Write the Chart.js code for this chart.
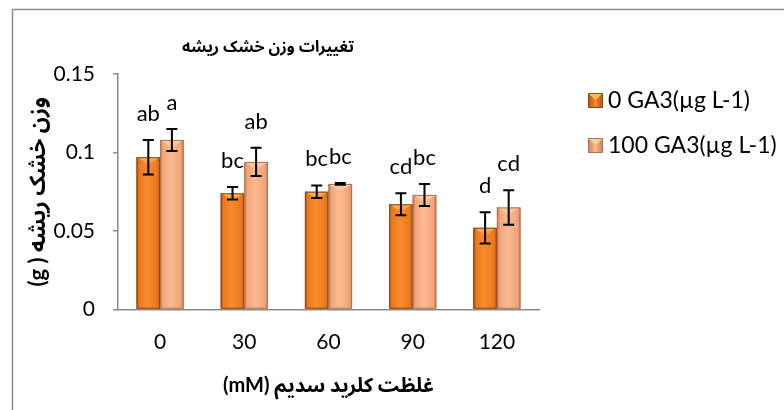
<!DOCTYPE html>
<html>
<head>
<meta charset="utf-8">
<script src="https://cdn.jsdelivr.net/npm/chart.js@4/dist/chart.umd.min.js"></script>
<style>
  html, body { margin: 0; padding: 0; background: #fff; }
  #wrap { width: 784px; height: 410px; position: relative; }
</style>
</head>
<body>
<div id="wrap"><canvas id="c" width="784" height="410"></canvas></div>
<script>
// Sodium chloride concentration (mM)
const categories = ['0', '30', '60', '90', '120'];

// Root dry weight (g), with and without gibberellic acid
const seriesNames = ['0 GA3(µg L-1)', '100 GA3(µg L-1)'];
const ga0Values   = [0.097, 0.074, 0.075, 0.067, 0.052];
const ga100Values = [0.108, 0.094, 0.080, 0.073, 0.065];

// Standard error of each mean
const ga0Errors   = [0.011, 0.004, 0.004, 0.007, 0.010];
const ga100Errors = [0.007, 0.009, 0.0005, 0.007, 0.011];

// Mean-separation letters
const ga0Letters   = ['ab', 'bc', 'bc', 'cd', 'd'];
const ga100Letters = ['a', 'ab', 'bc', 'bc', 'cd'];

// Y axis ticks
const yTicks = [0, 0.05, 0.1, 0.15];

const chartTitle = 'تغییرات وزن خشک ریشه';
const xTitle = 'غلظت کلرید سدیم (mM)';
const yTitle = 'وزن خشک ریشه ( g)';

const LATIN = 'Lato, "Open Sans", sans-serif';
const PERSIAN = 'Lato, "Noto Sans Arabic", sans-serif';

const palette = [
  { base: '#EC7820', edge: '#AE520E', mid: '#F88C2C', cap: '#F7BE55', line: '#8A4A18' },
  { base: '#F2A478', edge: '#C87E5C', mid: '#F9BA92', cap: '#FAD39A', line: '#B07458' }
];

const errorSets = [ga0Errors, ga100Errors];
const letterSets = [ga0Letters, ga100Letters];

// Cylinder-like shading and top bevel over each bar
const barShade = {
  id: 'barShade',
  afterDatasetsDraw(chart) {
    const ctx = chart.ctx;
    chart.data.datasets.forEach((ds, di) => {
      const meta = chart.getDatasetMeta(di);
      const p = palette[di];
      meta.data.forEach(el => {
        const { x, y, base, width } = el.getProps(['x', 'y', 'base', 'width'], true);
        const l = x - width / 2, r = x + width / 2;
        const g = ctx.createLinearGradient(l, 0, r, 0);
        g.addColorStop(0, p.edge);
        g.addColorStop(0.12, p.base);
        g.addColorStop(0.45, p.mid);
        g.addColorStop(0.88, p.base);
        g.addColorStop(1, p.edge);
        ctx.save();
        ctx.fillStyle = g;
        ctx.fillRect(l, y, width, base - y);
        // top bevel
        const bev = Math.min(8, (base - y) / 2);
        const tg = ctx.createLinearGradient(0, y, 0, y + bev);
        tg.addColorStop(0, p.cap);
        tg.addColorStop(1, p.mid);
        ctx.fillStyle = tg;
        ctx.beginPath();
        ctx.moveTo(l + 1, y);
        ctx.lineTo(r - 1, y);
        ctx.lineTo(x, y + bev);
        ctx.closePath();
        ctx.fill();
        ctx.strokeStyle = p.line;
        ctx.lineWidth = 1;
        ctx.strokeRect(l + 0.5, y + 0.5, width - 1, base - y - 1);
        ctx.restore();
      });
    });
  }
};

// Error bars and letters above each bar
const errorsAndLetters = {
  id: 'errorsAndLetters',
  afterDatasetsDraw(chart) {
    const ctx = chart.ctx;
    const ys = chart.scales.y;
    chart.data.datasets.forEach((ds, di) => {
      const meta = chart.getDatasetMeta(di);
      meta.data.forEach((el, i) => {
        const v = ds.data[i];
        const e = errorSets[di][i];
        const x = el.x;
        const top = ys.getPixelForValue(v + e);
        const bot = ys.getPixelForValue(v - e);
        ctx.save();
        ctx.strokeStyle = '#000';
        ctx.lineWidth = 2;
        ctx.beginPath();
        ctx.moveTo(x, top); ctx.lineTo(x, bot);
        ctx.moveTo(x - 5.5, top); ctx.lineTo(x + 5.5, top);
        ctx.moveTo(x - 5.5, bot); ctx.lineTo(x + 5.5, bot);
        ctx.stroke();
        ctx.fillStyle = '#000';
        ctx.font = '22px ' + LATIN;
        ctx.textAlign = 'center';
        ctx.textBaseline = 'alphabetic';
        ctx.fillText(letterSets[di][i], x, top - 19);
        ctx.restore();
      });
    });
  }
};

// Frame, titles and legend
const decorations = {
  id: 'decorations',
  afterDraw(chart) {
    const ctx = chart.ctx;
    const area = chart.chartArea;
    const midX = (area.left + area.right) / 2;
    const midY = (area.top + area.bottom) / 2;
    ctx.save();
    ctx.strokeStyle = '#8C8C8C';
    ctx.lineWidth = 1.5;
    ctx.beginPath();
    ctx.moveTo(12.5, 410); ctx.lineTo(12.5, 9.5); ctx.lineTo(784, 9.5);
    ctx.stroke();

    ctx.fillStyle = '#000';
    ctx.direction = 'rtl';
    ctx.textAlign = 'center';
    ctx.textBaseline = 'middle';
    ctx.font = 'bold 16px ' + PERSIAN;
    ctx.fillText(chartTitle, 268, 47);

    ctx.font = 'bold 20px ' + PERSIAN;
    ctx.fillText(xTitle, midX, 386);

    ctx.save();
    ctx.font = 'bold 22px ' + PERSIAN;
    ctx.translate(38, midY);
    ctx.rotate(-Math.PI / 2);
    ctx.fillText(yTitle, 0, 0);
    ctx.restore();

    // legend
    ctx.direction = 'ltr';
    ctx.textAlign = 'left';
    ctx.font = '23px ' + LATIN;
    chart.data.datasets.forEach((ds, di) => {
      const p = palette[di];
      const cy = 100 + di * 45;
      const bx = 588, by = cy - 7, s = 15;
      const g = ctx.createLinearGradient(bx, 0, bx + s, 0);
      g.addColorStop(0, p.edge);
      g.addColorStop(0.5, p.mid);
      g.addColorStop(1, p.edge);
      ctx.fillStyle = g;
      ctx.fillRect(bx, by, s, s);
      ctx.fillStyle = p.cap;
      ctx.beginPath();
      ctx.moveTo(bx + 1, by + 1); ctx.lineTo(bx + s - 1, by + 1); ctx.lineTo(bx + s / 2, by + 7);
      ctx.closePath(); ctx.fill();
      ctx.strokeStyle = p.line; ctx.lineWidth = 1;
      ctx.strokeRect(bx + 0.5, by + 0.5, s - 1, s - 1);
      ctx.fillStyle = '#000';
      ctx.fillText(ds.label, 608, cy + 1);
    });
    ctx.restore();
  }
};

new Chart(document.getElementById('c'), {
  type: 'bar',
  data: {
    labels: categories,
    datasets: [
      { label: seriesNames[0], data: ga0Values, backgroundColor: palette[0].base },
      { label: seriesNames[1], data: ga100Values, backgroundColor: palette[1].base }
    ]
  },
  options: {
    responsive: false,
    animation: false,
    devicePixelRatio: 1,
    layout: { padding: { left: 0, right: 245, top: 74, bottom: 0 } },
    datasets: { bar: { categoryPercentage: 0.56, barPercentage: 1.0 } },
    plugins: { legend: { display: false }, title: { display: false }, tooltip: { enabled: false } },
    scales: {
      x: {
        grid: { display: false, drawTicks: false },
        border: { display: true, color: '#8C8C8C', width: 1.5 },
        ticks: { color: '#000', font: { family: LATIN, size: 21 }, padding: 20 },
        afterFit(s) { s.height = 100.5; }
      },
      y: {
        min: 0, max: 0.15,
        afterBuildTicks(s) { s.ticks = yTicks.map(v => ({ value: v })); },
        grid: { display: true, drawOnChartArea: false, drawTicks: true, tickLength: 5, color: '#8C8C8C', lineWidth: 1.5 },
        border: { display: true, color: '#8C8C8C', width: 1.5 },
        ticks: { color: '#000', font: { family: LATIN, size: 21 }, padding: 18, callback: v => String(v) },
        afterFit(s) { s.width = 118; }
      }
    }
  },
  plugins: [barShade, errorsAndLetters, decorations]
});
</script>
</body>
</html>
